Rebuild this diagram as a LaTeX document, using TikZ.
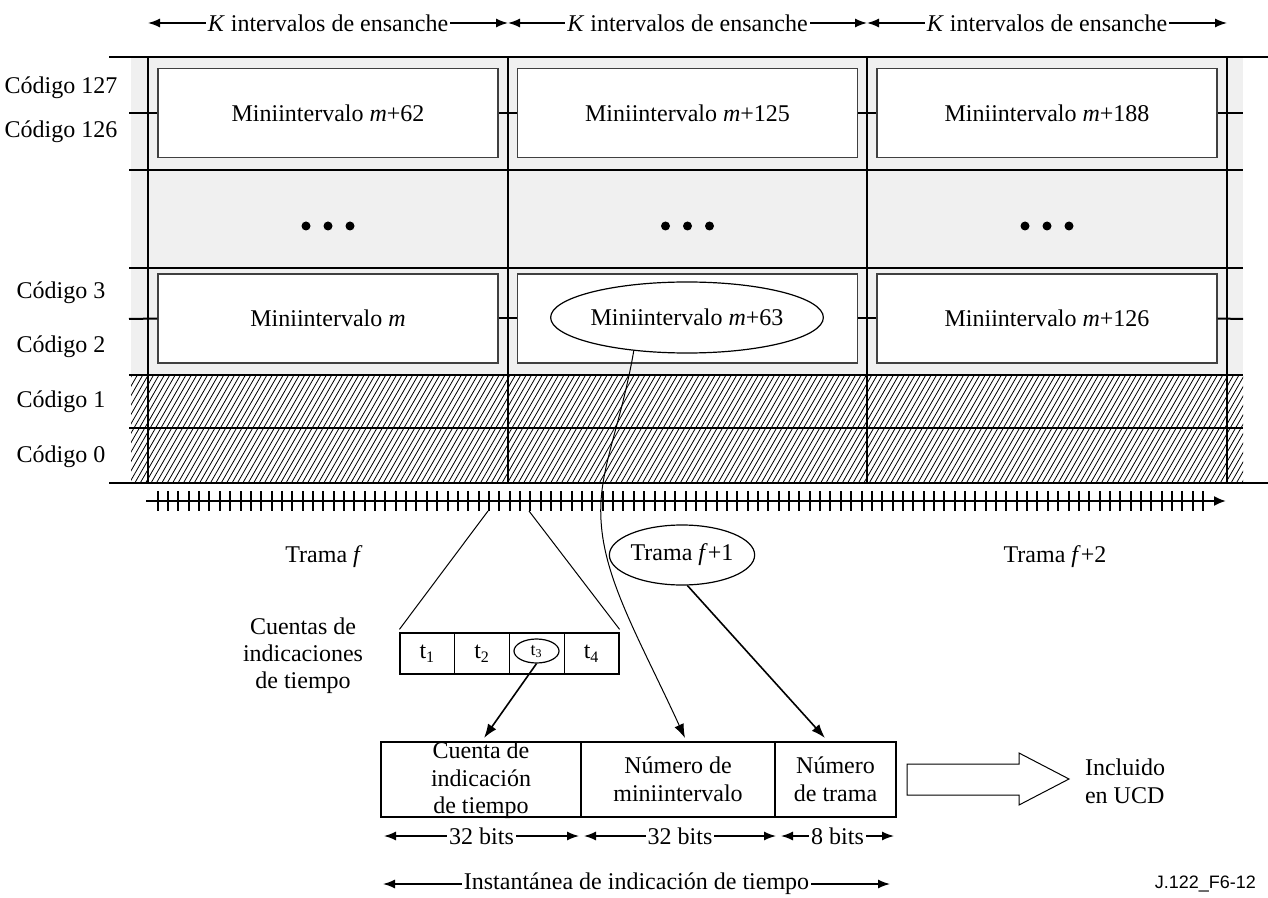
\documentclass[tikz,border=0pt]{standalone}
\usepackage{fontspec}
\setmainfont{Liberation Serif}
\newfontfamily\labelsans{Liberation Sans}
\usetikzlibrary{arrows.meta,shapes.geometric,calc}

\begin{document}
\begin{tikzpicture}[x=0.5pt,y=-0.5pt,
  font=\fontsize{12}{13.8}\selectfont,
  gridline/.style={line width=1pt},
  thinline/.style={line width=0.5pt},
  hatchline/.style={line width=0.4pt},
  slotbox/.style={draw=black!75, line width=0.6pt, fill=white,
    minimum width=170pt, minimum height=44.5pt, inner sep=0pt},
  cellbox/.style={draw, line width=0.6pt, minimum width=27.4pt,
    minimum height=20.5pt, inner sep=0pt},
  fieldbox/.style={draw, line width=0.6pt, minimum height=37.5pt, inner sep=0pt},
  dimarrow/.style={line width=0.7pt,
    {Latex[length=6pt,width=4.5pt]}-{Latex[length=6pt,width=4.5pt]}},
  ptr/.style={line width=0.8pt, -{Latex[length=7pt,width=5pt]}},
  dimlabel/.style={fill=white, inner sep=1pt},
  bigdot/.style={circle, fill, inner sep=0pt, minimum size=4.5pt},
]
\useasboundingbox (0,0) rectangle (1268,898);

% shaded band behind the slot grid
\fill[black!6] (131,57) rectangle (1243,483);
\fill[white] (131,375) rectangle (1243,483);
\begin{scope}
  \clip (131,375) rectangle (1243,483);
  \foreach \i in {0,...,225} {
    \draw[hatchline] ({70+5.4*\i},483) -- ++(62,-108);
  }
\end{scope}

% mini-slot boxes
\node[slotbox] (b1) at (328,113) {Miniintervalo \textit{m}+62};
\node[slotbox] (b2) at (687.5,113) {Miniintervalo \textit{m}+125};
\node[slotbox] (b3) at (1047,113) {Miniintervalo \textit{m}+188};
\node[slotbox] (c1) at (328,318.5) {Miniintervalo \textit{m}};
\node[slotbox] (c2) at (687.5,318.5) {};
\node[slotbox] (c3) at (1047,318.5) {Miniintervalo \textit{m}+126};
\node[ellipse, draw, line width=0.6pt, minimum width=120pt, minimum height=35.5pt,
  inner sep=0pt] (mi63) at (687,317.5) {Miniintervalo \textit{m}+63};

% grid lines
\draw[gridline] (109,57) -- (1268,57);
\foreach \yy in {170,268,375,428} {
  \draw[gridline] (129,\yy) -- (1243,\yy);
}
\draw[gridline] (109,483) -- (1268,483);
\foreach \xx in {148,508,867,1227} {
  \draw[gridline] (\xx,57) -- (\xx,483);
}
% code boundary marks between the boxes
\draw[gridline] (129,113) -- (b1.west);
\draw[gridline] (b1.east) -- (b2.west);
\draw[gridline] (b2.east) -- (b3.west);
\draw[gridline] (b3.east) -- (1243,113);
\draw[gridline] (129,319) -- (c1.west);
\draw[gridline] (c1.east) -- (c2.west);
\draw[gridline] (c2.east) -- (c3.west);
\draw[gridline] (c3.east) -- (1243,319);

% ellipsis dots in the middle row
\foreach \cx/\n in {328/1,687.5/2,1047/3} {
  \foreach \k/\m in {-1/a,0/b,1/c} {
    \node[bigdot] (dot\n\m) at ({\cx+22*\k},226) {};
  }
}

% code labels
\node (k127) at (61,88) {Código 127};
\node (k126) at (61,132) {Código 126};
\node (k3) at (61,293) {Código 3};
\node (k2) at (61,347) {Código 2};
\node (k1) at (61,402) {Código 1};
\node (k0) at (61,457) {Código 0};

% spans of K widening intervals
\coordinate (s0) at (148,23);
\coordinate (s1) at (508,23);
\coordinate (s2) at (867,23);
\coordinate (s3) at (1227,23);
\draw[dimarrow] (s0) -- (s1) node[midway, dimlabel] {\textit{K} intervalos de ensanche};
\draw[dimarrow] (s1) -- (s2) node[midway, dimlabel] {\textit{K} intervalos de ensanche};
\draw[dimarrow] (s2) -- (s3) node[midway, dimlabel] {\textit{K} intervalos de ensanche};

% time axis with timestamp ticks
\coordinate (ax0) at (146,501);
\coordinate (ax1) at (1226,501);
\draw[gridline, -{Latex[length=6pt,width=5pt]}] (ax0) -- (ax1);
\foreach \i in {0,...,101} {
  \draw[gridline] ({157.7+10.35*\i},491) -- ({157.7+10.35*\i},511);
}

% frame labels
\node (tf) at (324,557) {Trama \textit{f}};
\node[ellipse, draw, line width=0.6pt, minimum width=70pt, minimum height=30pt,
  inner sep=0pt] (tf1) at (682,555) {Trama \textit{f}+1};
\node (tf2) at (1055,557) {Trama \textit{f}+2};

% timestamp counts
\node[align=center, font=\fontsize{12}{13.5}\selectfont] (cnt) at (303,656)
  {Cuentas de\\indicaciones\\de tiempo};
\node[cellbox] (t1) at (427.4,653.5) {t\textsubscript{1}};
\node[cellbox] (t2) at (482.1,653.5) {t\textsubscript{2}};
\node[cellbox] (t3) at (536.9,653.5) {};
\node[cellbox] (t4) at (591.6,653.5) {t\textsubscript{4}};
\node[ellipse, draw, line width=0.6pt, minimum width=22.5pt, minimum height=12pt,
  inner sep=0pt, font=\fontsize{9}{10}\selectfont] (t3e) at (536.5,651) {t\textsubscript{3}};

% zoom from the axis onto the counts
\coordinate (za) at (488,511);
\coordinate (zb) at (529,511);
\draw[thinline] (za) -- ([yshift=1.5pt]t1.north west);
\draw[thinline] (zb) -- ([yshift=1.5pt]t4.north east);

% timestamp snapshot fields
\node[fieldbox, minimum width=100pt] (f1) at (481,779.5) {};
\node[fieldbox, minimum width=97pt] (f2) at (678,779.5) {};
\node[fieldbox, minimum width=60.5pt] (f3) at (835.5,779.5) {};
\node[align=center, font=\fontsize{12}{13.8}\selectfont] (f1t) at (481,780.5)
  {Cuenta de\\indicación\\de tiempo};
\node[align=center, font=\fontsize{12}{14}\selectfont] (f2t) at (678,779)
  {Número de\\miniintervalo};
\node[align=center, font=\fontsize{12}{14}\selectfont] (f3t) at (835.5,779)
  {Número\\de trama};

% pointers into the fields
\coordinate (in1) at (484,738);
\coordinate (in2) at (685,738);
\coordinate (in3) at (825,738);
\draw[ptr] (t3e.south) -- (in1);
\draw[thinline, -{Latex[length=7pt,width=5pt]}] (mi63.212)
  .. controls (620,430) and (598,470) .. (601,520)
  .. controls (604,580) and (640,640) .. (in2);
\draw[ptr] (tf1.-80) -- (in3);

% field widths
\coordinate (w0) at (384,836);
\coordinate (w1) at (579,836);
\coordinate (w2) at (584,836);
\coordinate (w3) at (776,836);
\coordinate (w4) at (781,836);
\coordinate (w5) at (894,836);
\draw[dimarrow] (w0) -- (w1) node[midway, dimlabel] {32 bits};
\draw[dimarrow] (w2) -- (w3) node[midway, dimlabel] {32 bits};
\draw[dimarrow] (w4) -- (w5) node[midway, dimlabel] {8 bits};

\coordinate (v0) at (383,884);
\coordinate (v1) at (890,884);
\draw[dimarrow] (v0) -- (v1) node[midway, dimlabel] {Instantánea de indicación de tiempo};

% hollow arrow to the UCD note
\node[align=left, anchor=west] (ucd) at (1078,781) {Incluido\\en UCD};
\draw[line width=0.5pt] (907,764) -- (1019,764) -- (1019,753) -- (1069,779)
  -- (1019,805) -- (1019,795) -- (907,795) -- cycle;

\node[anchor=east, font=\labelsans\fontsize{9}{10}\selectfont] (fig) at (1263,884) {J.122\_F6-12};
\end{tikzpicture}
\end{document}
